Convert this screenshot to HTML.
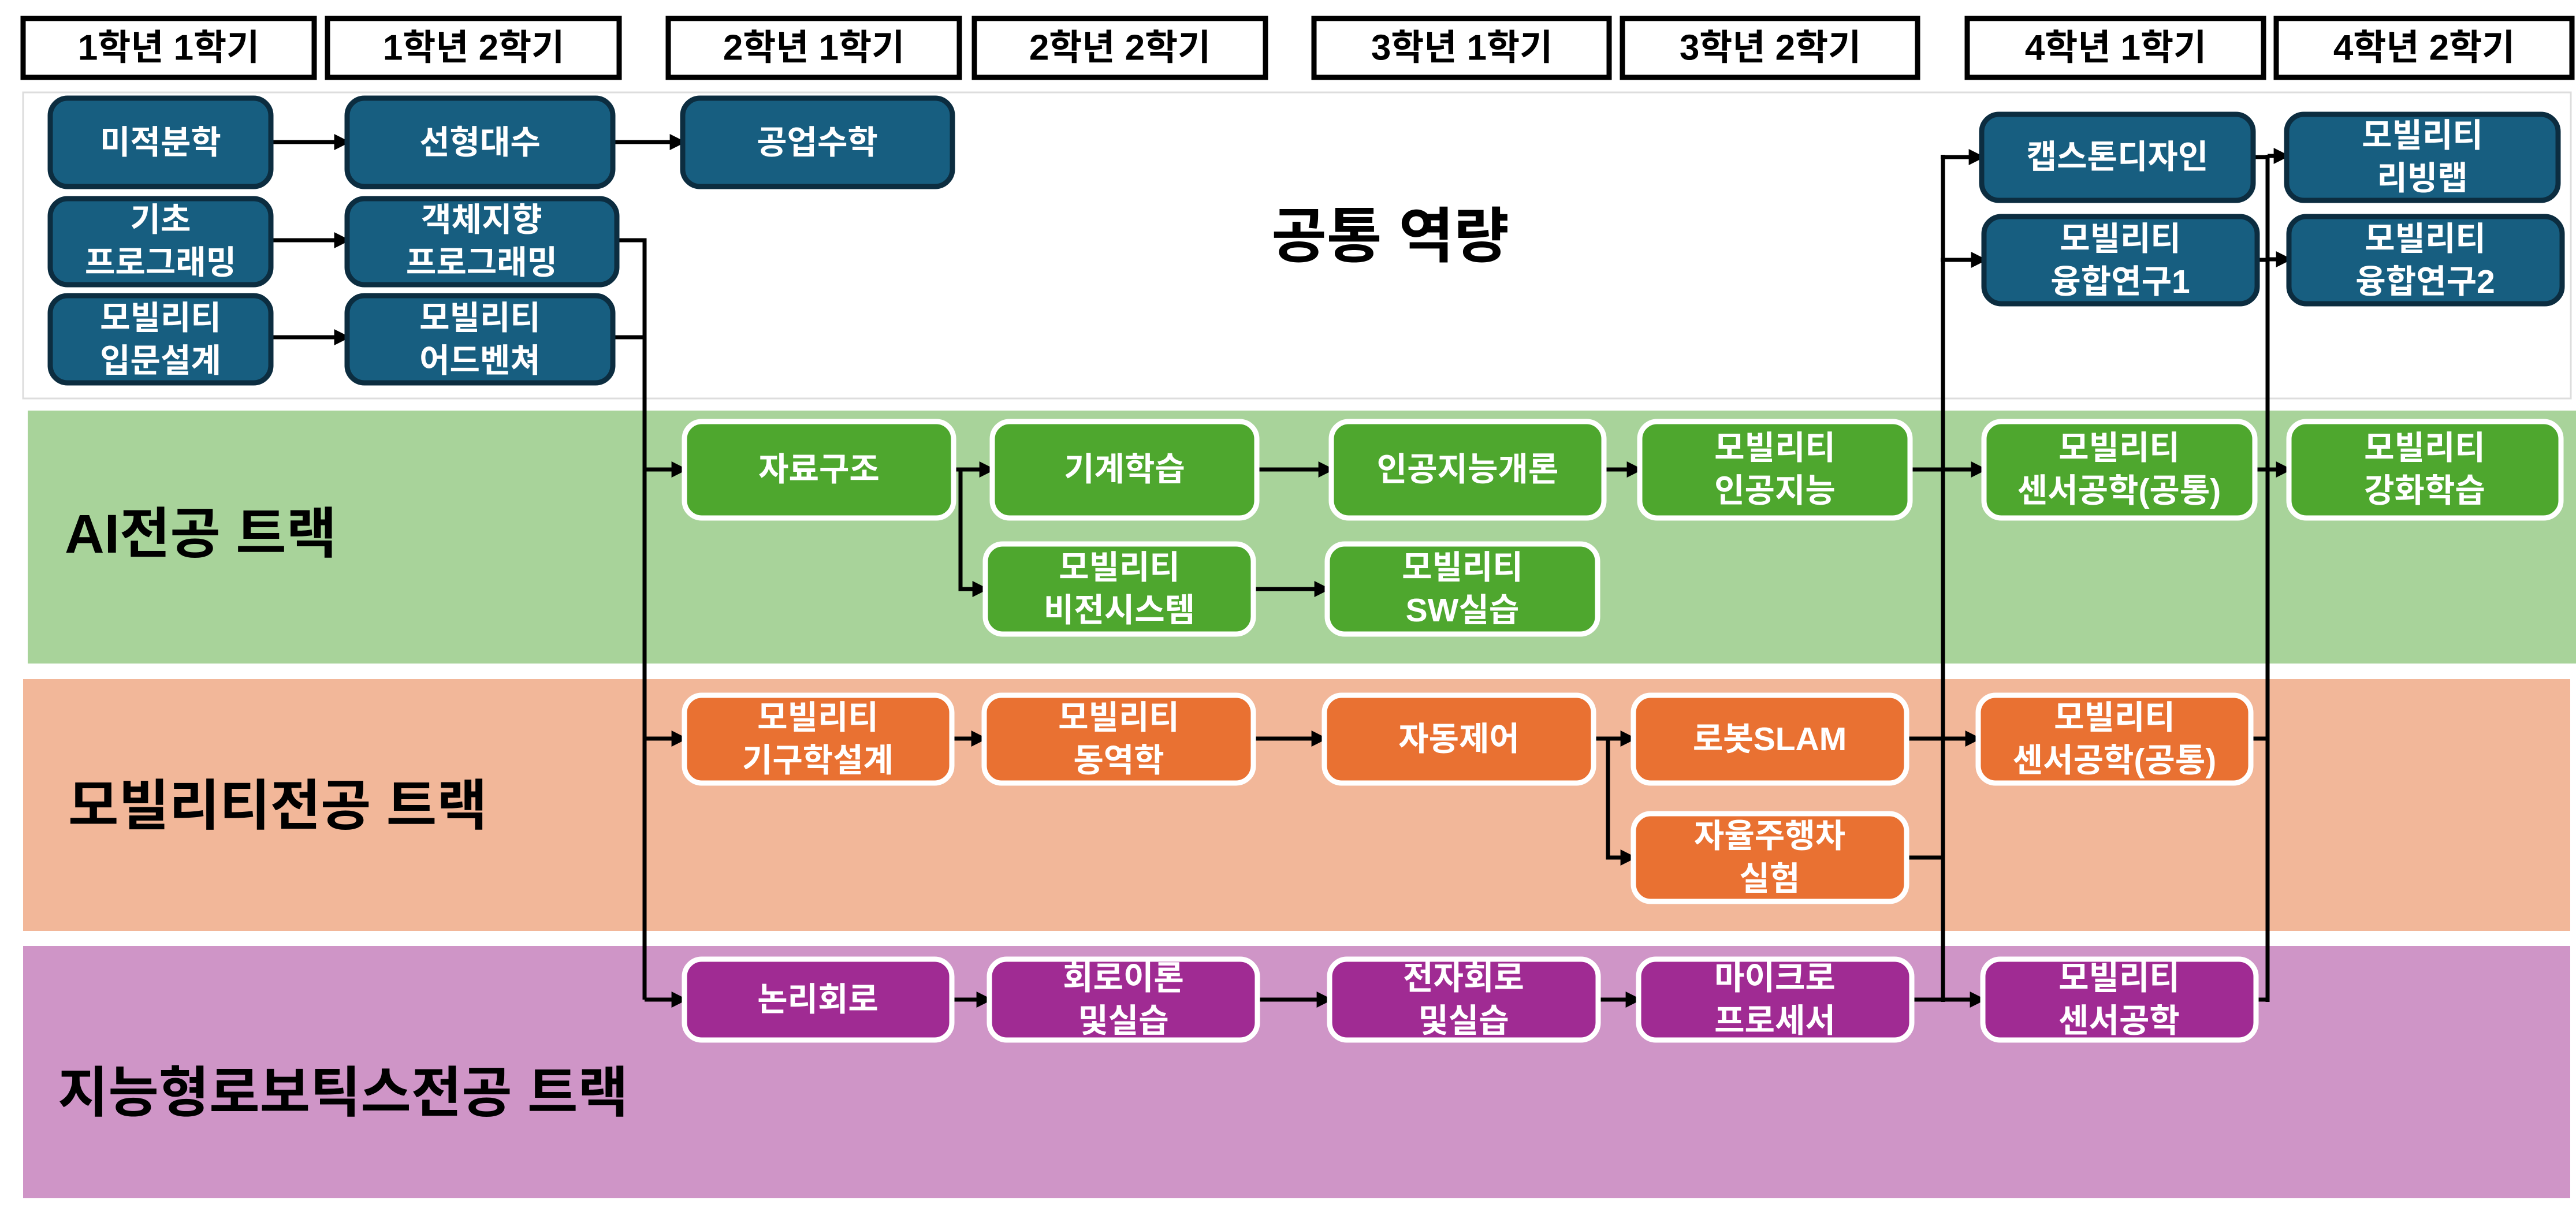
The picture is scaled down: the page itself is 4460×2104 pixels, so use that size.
<!DOCTYPE html>
<html><head><meta charset="utf-8"><style>
html,body{margin:0;padding:0;background:#fff;}
svg{display:block;}
text{font-family:"Liberation Sans","Noto Sans CJK KR",sans-serif;font-weight:bold;}
.n{fill:#fff;font-size:57px;text-anchor:middle;dominant-baseline:central;}
.h{fill:#000;font-size:62px;text-anchor:middle;dominant-baseline:central;}
.t{fill:#000;font-size:95px;dominant-baseline:central;}
.b{fill:#175e80;stroke:#0c2d40;stroke-width:9;}
.g{fill:#4ea72e;stroke:#fff;stroke-width:9;}
.o{fill:#e97132;stroke:#fff;stroke-width:9;}
.p{fill:#a02b93;stroke:#fff;stroke-width:9;}
.l{fill:none;stroke:#000;stroke-width:7;}
.a{fill:none;stroke:#000;stroke-width:7;marker-end:url(#ar);}
</style></head><body>
<svg width="4460" height="2104" viewBox="0 0 4460 2104" xmlns="http://www.w3.org/2000/svg">
<defs><marker id="ar" markerWidth="4" markerHeight="4" refX="3.2" refY="2" orient="auto" markerUnits="strokeWidth"><path d="M0,0 L4,2 L0,4 z" fill="#000"/></marker></defs>

<rect x="40" y="160" width="4411" height="530" fill="#fff" stroke="#ddd" stroke-width="3"/>
<rect x="48" y="711" width="4412" height="438" fill="#a8d39a"/>
<rect x="40" y="1176" width="4410" height="436" fill="#f2b799"/>
<rect x="40" y="1638" width="4410" height="437" fill="#cf95c7"/>

<g fill="#fff" stroke="#000" stroke-width="9">
<rect x="40" y="32" width="504" height="102"/>
<rect x="567" y="32" width="505" height="102"/>
<rect x="1157" y="32" width="504" height="102"/>
<rect x="1687" y="32" width="504" height="102"/>
<rect x="2275" y="32" width="511" height="102"/>
<rect x="2809" y="32" width="511" height="102"/>
<rect x="3406" y="32" width="513" height="102"/>
<rect x="3941" y="32" width="512" height="102"/>
</g>
<text class="h" x="292" y="83">1학년 1학기</text>
<text class="h" x="820" y="83">1학년 2학기</text>
<text class="h" x="1409" y="83">2학년 1학기</text>
<text class="h" x="1939" y="83">2학년 2학기</text>
<text class="h" x="2531" y="83">3학년 1학기</text>
<text class="h" x="3065" y="83">3학년 2학기</text>
<text class="h" x="3663" y="83">4학년 1학기</text>
<text class="h" x="4197" y="83">4학년 2학기</text>

<text class="t" x="2407" y="410" text-anchor="middle" style="font-size:104px">공통 역량</text>
<text class="t" x="112" y="925">AI전공 트랙</text>
<text class="t" x="118" y="1396">모빌리티전공 트랙</text>
<text class="t" x="100" y="1893">지능형로보틱스전공 트랙</text>

<line class="a" x1="469" y1="246" x2="601" y2="246"/>
<line class="a" x1="1061" y1="246" x2="1182" y2="246"/>
<line class="a" x1="469" y1="416" x2="601" y2="416"/>
<line class="a" x1="469" y1="584" x2="601" y2="584"/>
<polyline class="l" points="1068,416 1116,416 1116,1731"/>
<line class="l" x1="1061" y1="584" x2="1116" y2="584"/>
<line class="a" x1="1116" y1="813" x2="1185" y2="813"/>
<line class="a" x1="1116" y1="1279" x2="1185" y2="1279"/>
<line class="a" x1="1116" y1="1731" x2="1185" y2="1731"/>

<line class="a" x1="1651" y1="813" x2="1718" y2="813"/>
<polyline class="a" points="1663,813 1663,1020 1706,1020"/>
<line class="a" x1="2176" y1="813" x2="2305" y2="813"/>
<line class="a" x1="2777" y1="813" x2="2839" y2="813"/>
<line class="a" x1="2170" y1="1020" x2="2298" y2="1020"/>
<line class="l" x1="3307" y1="813" x2="3364" y2="813"/>

<line class="a" x1="1648" y1="1279" x2="1704" y2="1279"/>
<line class="a" x1="2170" y1="1279" x2="2293" y2="1279"/>
<line class="a" x1="2759" y1="1279" x2="2828" y2="1279"/>
<polyline class="a" points="2784,1279 2784,1485 2828,1485"/>
<line class="l" x1="3301" y1="1279" x2="3364" y2="1279"/>
<line class="l" x1="3301" y1="1485" x2="3364" y2="1485"/>

<line class="a" x1="1648" y1="1731" x2="1713" y2="1731"/>
<line class="a" x1="2177" y1="1731" x2="2302" y2="1731"/>
<line class="a" x1="2767" y1="1731" x2="2837" y2="1731"/>
<line class="l" x1="3310" y1="1731" x2="3364" y2="1731"/>

<line class="l" x1="3364" y1="268" x2="3364" y2="1735"/>
<line class="a" x1="3360" y1="272" x2="3431" y2="272"/>
<line class="a" x1="3360" y1="450" x2="3435" y2="450"/>
<line class="a" x1="3364" y1="813" x2="3435" y2="813"/>
<line class="a" x1="3364" y1="1279" x2="3425" y2="1279"/>
<line class="a" x1="3364" y1="1731" x2="3433" y2="1731"/>

<line class="l" x1="3926" y1="268" x2="3926" y2="1735"/>
<line class="l" x1="3901" y1="272" x2="3926" y2="272"/>
<line class="l" x1="3908" y1="450" x2="3926" y2="450"/>
<line class="l" x1="3904" y1="813" x2="3926" y2="813"/>
<line class="l" x1="3897" y1="1279" x2="3926" y2="1279"/>
<line class="l" x1="3906" y1="1731" x2="3926" y2="1731"/>
<line class="a" x1="3926" y1="270" x2="3959" y2="270"/>
<line class="a" x1="3926" y1="449" x2="3963" y2="449"/>
<line class="a" x1="3926" y1="813" x2="3963" y2="813"/>

<rect class="b" x="87" y="170" width="382" height="153" rx="30"/><text class="n" x="278" y="247">미적분학</text>
<rect class="b" x="601" y="170" width="460" height="153" rx="30"/><text class="n" x="831" y="247">선형대수</text>
<rect class="b" x="1182" y="170" width="467" height="153" rx="30"/><text class="n" x="1415" y="247">공업수학</text>
<rect class="b" x="87" y="344" width="382" height="149" rx="30"/><text class="n" x="278" y="381">기초</text><text class="n" x="278" y="455">프로그래밍</text>
<rect class="b" x="601" y="344" width="467" height="149" rx="30"/><text class="n" x="834" y="381">객체지향</text><text class="n" x="834" y="455">프로그래밍</text>
<rect class="b" x="87" y="512" width="382" height="151" rx="30"/><text class="n" x="278" y="551">모빌리티</text><text class="n" x="278" y="625">입문설계</text>
<rect class="b" x="601" y="512" width="460" height="151" rx="30"/><text class="n" x="831" y="551">모빌리티</text><text class="n" x="831" y="625">어드벤쳐</text>
<rect class="b" x="3431" y="198" width="470" height="149" rx="30"/><text class="n" x="3666" y="272">캡스톤디자인</text>
<rect class="b" x="3959" y="198" width="470" height="149" rx="30"/><text class="n" x="4194" y="235">모빌리티</text><text class="n" x="4194" y="309">리빙랩</text>
<rect class="b" x="3435" y="375" width="473" height="151" rx="30"/><text class="n" x="3671" y="414">모빌리티</text><text class="n" x="3671" y="488">융합연구1</text>
<rect class="b" x="3963" y="375" width="473" height="151" rx="30"/><text class="n" x="4199" y="414">모빌리티</text><text class="n" x="4199" y="488">융합연구2</text>

<rect class="g" x="1185" y="730" width="466" height="167" rx="30"/><text class="n" x="1418" y="813">자료구조</text>
<rect class="g" x="1718" y="730" width="458" height="167" rx="30"/><text class="n" x="1947" y="813">기계학습</text>
<rect class="g" x="2305" y="730" width="472" height="167" rx="30"/><text class="n" x="2541" y="813">인공지능개론</text>
<rect class="g" x="2839" y="730" width="468" height="167" rx="30"/><text class="n" x="3073" y="776">모빌리티</text><text class="n" x="3073" y="850">인공지능</text>
<rect class="g" x="3435" y="730" width="469" height="167" rx="30"/><text class="n" x="3669" y="776">모빌리티</text><text class="n" x="3669" y="850">센서공학(공통)</text>
<rect class="g" x="3963" y="730" width="471" height="167" rx="30"/><text class="n" x="4198" y="776">모빌리티</text><text class="n" x="4198" y="850">강화학습</text>
<rect class="g" x="1706" y="942" width="464" height="156" rx="30"/><text class="n" x="1938" y="983">모빌리티</text><text class="n" x="1938" y="1057">비전시스템</text>
<rect class="g" x="2298" y="942" width="468" height="156" rx="30"/><text class="n" x="2532" y="983">모빌리티</text><text class="n" x="2532" y="1057">SW실습</text>

<rect class="o" x="1185" y="1204" width="463" height="152" rx="30"/><text class="n" x="1416" y="1243">모빌리티</text><text class="n" x="1416" y="1317">기구학설계</text>
<rect class="o" x="1704" y="1204" width="466" height="152" rx="30"/><text class="n" x="1937" y="1243">모빌리티</text><text class="n" x="1937" y="1317">동역학</text>
<rect class="o" x="2293" y="1204" width="466" height="152" rx="30"/><text class="n" x="2526" y="1280">자동제어</text>
<rect class="o" x="2828" y="1204" width="473" height="152" rx="30"/><text class="n" x="3064" y="1280">로봇SLAM</text>
<rect class="o" x="3425" y="1204" width="472" height="152" rx="30"/><text class="n" x="3661" y="1243">모빌리티</text><text class="n" x="3661" y="1317">센서공학(공통)</text>
<rect class="o" x="2828" y="1409" width="473" height="152" rx="30"/><text class="n" x="3064" y="1448">자율주행차</text><text class="n" x="3064" y="1522">실험</text>

<rect class="p" x="1185" y="1661" width="463" height="140" rx="30"/><text class="n" x="1416" y="1731">논리회로</text>
<rect class="p" x="1713" y="1661" width="464" height="140" rx="30"/><text class="n" x="1945" y="1694">회로이론</text><text class="n" x="1945" y="1768">및실습</text>
<rect class="p" x="2302" y="1661" width="465" height="140" rx="30"/><text class="n" x="2534" y="1694">전자회로</text><text class="n" x="2534" y="1768">및실습</text>
<rect class="p" x="2837" y="1661" width="473" height="140" rx="30"/><text class="n" x="3073" y="1694">마이크로</text><text class="n" x="3073" y="1768">프로세서</text>
<rect class="p" x="3433" y="1661" width="473" height="140" rx="30"/><text class="n" x="3669" y="1694">모빌리티</text><text class="n" x="3669" y="1768">센서공학</text>
</svg>
</body></html>
